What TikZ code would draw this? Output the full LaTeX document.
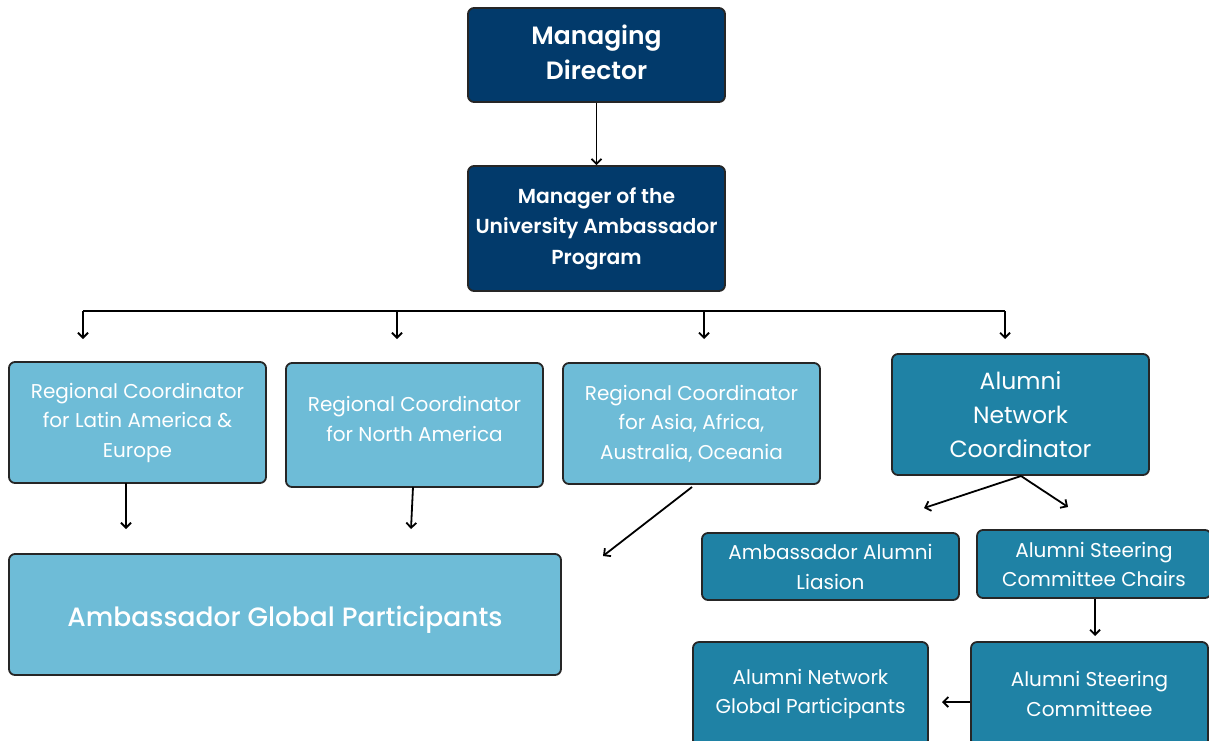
\documentclass[tikz,border=0pt]{standalone}
\usepackage{fontspec}
\setmainfont{Poppins}
\newfontfamily\semifont{Poppins SemiBold}
\newfontfamily\medfont{Poppins Medium}
\usetikzlibrary{arrows.meta}
\definecolor{navy}{RGB}{2,58,107}
\definecolor{sky}{RGB}{110,188,215}
\definecolor{teal}{RGB}{31,130,165}
\tikzset{
  box/.style={draw=black!85, line width=1.8pt, rounded corners=6pt, text=white,
    align=center, inner sep=0pt},
  darkbox/.style={box, fill=navy},
  lightbox/.style={box, fill=sky},
  tealbox/.style={box, fill=teal},
  link/.style={line width=1.8pt, -{Straight Barb[length=5pt,width=10pt]}},
  plain/.style={line width=1.8pt}
}
\begin{document}
\begin{tikzpicture}[x=1pt,y=-1pt]
\useasboundingbox (0,0) rectangle (1209,740);

% top of the hierarchy
\node[darkbox, minimum width=257pt, minimum height=94pt,
  font=\fontsize{25}{35}\selectfont\semifont, text depth=6pt] (md) at (596.5,55)
  {Managing\\Director};
\node[darkbox, minimum width=257pt, minimum height=125pt,
  font=\fontsize{20.3}{30.5}\selectfont\semifont] (mgr) at (596.5,228.5)
  {Manager of the\\University Ambassador\\Program};
\draw[link] (md.south) -- (mgr.north);

% regional coordinators and the alumni coordinator
\node[lightbox, minimum width=257pt, minimum height=121pt,
  font=\fontsize{20}{29.5}\selectfont] (rcla) at (137.5,422.5)
  {Regional Coordinator\\for Latin America \&\\Europe};
\node[lightbox, minimum width=257pt, minimum height=124pt,
  font=\fontsize{20}{29.5}\selectfont, text depth=12pt] (rcna) at (414.5,425)
  {Regional Coordinator\\for North America};
\node[lightbox, minimum width=257pt, minimum height=121pt,
  font=\fontsize{20}{29.5}\selectfont] (rcas) at (691.5,423.5)
  {Regional Coordinator\\for Asia, Africa,\\Australia, Oceania};
\node[tealbox, minimum width=257pt, minimum height=121pt,
  font=\fontsize{23.5}{34}\selectfont] (anc) at (1020.5,414.5)
  {Alumni\\Network\\Coordinator};

% distribution bar below the program manager
\coordinate (barL) at (83,311);
\coordinate (barR) at (1005,311);
\coordinate (dLA) at (83,339);
\coordinate (dNA) at (397,339);
\coordinate (dAS) at (704,339);
\coordinate (dAN) at (1005,339);
\draw[plain] (barL) -- (barR);
\draw[link] (barL) -- (dLA);
\draw[link] (397,311) -- (dNA);
\draw[link] (704,311) -- (dAS);
\draw[link] (barR) -- (dAN);

% global participants
\node[lightbox, minimum width=552pt, minimum height=121pt,
  font=\fontsize{26.5}{30}\selectfont\medfont, text height=31pt] (agp) at (285,614.5)
  {Ambassador Global Participants};
\coordinate (tLA) at (126,529);
\coordinate (tNA) at (411,529);
\coordinate (tAS) at (603,556);
\draw[link] (126,483) -- (tLA);
\draw[link] (413,487) -- (tNA);
\draw[link] (692,487) -- (tAS);

% alumni network branch
\node[tealbox, minimum width=257pt, minimum height=67pt,
  font=\fontsize{20}{30}\selectfont] (aal) at (830.5,566.5)
  {Ambassador Alumni\\Liasion};
\node[tealbox, minimum width=234pt, minimum height=68pt,
  font=\fontsize{20}{29}\selectfont] (ascc) at (1094,564)
  {Alumni Steering\\Committee Chairs};
\node[tealbox, minimum width=237pt, minimum height=104pt,
  font=\fontsize{20}{30}\selectfont] (asc) at (1089.5,694)
  {Alumni Steering\\Committeee};
\node[tealbox, minimum width=235pt, minimum height=104pt,
  font=\fontsize{20}{29}\selectfont] (angp) at (810.5,694)
  {Alumni Network\\Global Participants};

\coordinate (ancS) at (1021,476);
\coordinate (tAAL) at (924,508);
\coordinate (tASCC) at (1068,507);
\draw[link] (ancS) -- (tAAL);
\draw[link] (ancS) -- (tASCC);
\draw[link] (ascc.south -| 1095,0) -- (1095,636);
\draw[link] (asc.west |- 0,702) -- (942,702);
\end{tikzpicture}
\end{document}
